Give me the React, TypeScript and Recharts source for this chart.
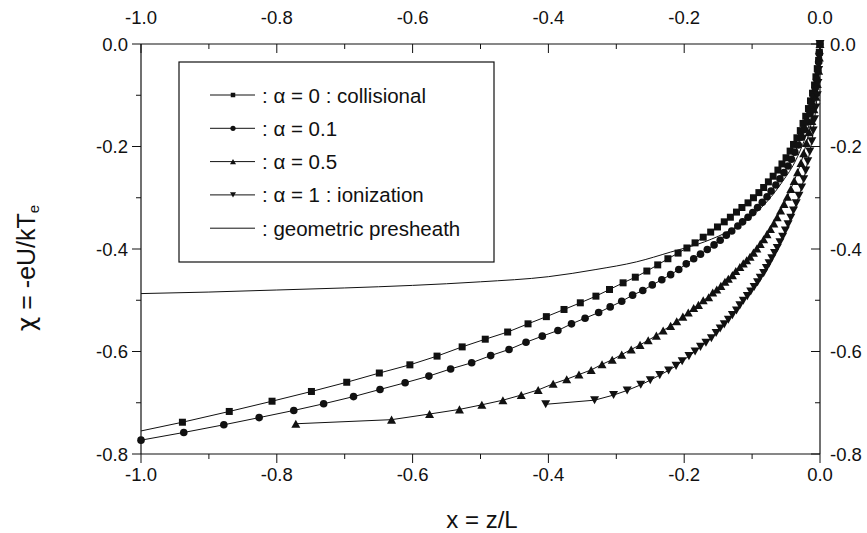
import React from 'react';
import { LineChart, Line, XAxis, YAxis, Customized } from 'recharts';

// axis ticks (major every 0.2 get a label, minor every 0.1)
const xTicks = [-1.0, -0.9, -0.8, -0.7, -0.6, -0.5, -0.4, -0.3, -0.2, -0.1, 0.0];
const yTicks = [-0.8, -0.7, -0.6, -0.5, -0.4, -0.3, -0.2, -0.1, 0.0];

// alpha = 0 : collisional (squares)
const collisionalX = [
  -1.0, -0.939, -0.870, -0.807, -0.749, -0.697, -0.649, -0.604, -0.564, -0.527, -0.493, -0.460,
  -0.430, -0.403, -0.377, -0.353, -0.330, -0.310, -0.290, -0.272, -0.255, -0.239, -0.224, -0.209,
  -0.196, -0.184, -0.172, -0.161, -0.151, -0.141, -0.132, -0.123, -0.115, -0.106, -0.098, -0.090,
  -0.083, -0.076, -0.069, -0.062, -0.056, -0.050, -0.044, -0.039, -0.034, -0.029, -0.025, -0.021,
  -0.017, -0.014, -0.011, -0.008, -0.006, -0.004, -0.002, -0.001, 0,
];
const collisionalY = [
  -0.755, -0.738, -0.717, -0.697, -0.678, -0.660, -0.642, -0.626, -0.609, -0.591, -0.576, -0.562,
  -0.546, -0.532, -0.518, -0.505, -0.492, -0.479, -0.466, -0.455, -0.443, -0.431, -0.419, -0.408,
  -0.398, -0.388, -0.377, -0.367, -0.357, -0.347, -0.338, -0.328, -0.319, -0.310, -0.300, -0.290,
  -0.280, -0.269, -0.258, -0.246, -0.234, -0.222, -0.209, -0.196, -0.183, -0.169, -0.155, -0.141,
  -0.126, -0.111, -0.096, -0.080, -0.064, -0.048, -0.032, -0.016, 0,
];

// alpha = 0.1 (circles)
const alpha01X = [
  -1.0, -0.937, -0.878, -0.826, -0.775, -0.731, -0.687, -0.648, -0.611, -0.576, -0.544, -0.513,
  -0.485, -0.458, -0.433, -0.409, -0.386, -0.366, -0.346, -0.326, -0.309, -0.292, -0.276, -0.261,
  -0.247, -0.233, -0.220, -0.208, -0.197, -0.186, -0.176, -0.166, -0.156, -0.147, -0.138, -0.130,
  -0.121, -0.114, -0.106, -0.099, -0.092, -0.085, -0.078, -0.072, -0.065, -0.059, -0.053, -0.047,
  -0.042, -0.037, -0.032, -0.027, -0.023, -0.019, -0.015, -0.012, -0.009, -0.007, -0.005, -0.003,
  -0.002, -0.001, 0,
];
const alpha01Y = [
  -0.773, -0.758, -0.743, -0.729, -0.715, -0.702, -0.688, -0.674, -0.661, -0.648, -0.634, -0.622,
  -0.608, -0.596, -0.582, -0.570, -0.559, -0.546, -0.535, -0.524, -0.513, -0.502, -0.490, -0.481,
  -0.470, -0.460, -0.450, -0.440, -0.429, -0.419, -0.410, -0.401, -0.392, -0.383, -0.373, -0.365,
  -0.355, -0.347, -0.338, -0.329, -0.319, -0.309, -0.298, -0.287, -0.275, -0.263, -0.251, -0.238,
  -0.225, -0.211, -0.197, -0.182, -0.167, -0.152, -0.136, -0.120, -0.103, -0.086, -0.069, -0.052,
  -0.035, -0.017, 0,
];

// alpha = 0.5 (triangles up)
const alpha05X = [
  -0.772, -0.631, -0.575, -0.531, -0.498, -0.467, -0.440, -0.415, -0.393, -0.373, -0.355, -0.337,
  -0.321, -0.306, -0.292, -0.278, -0.265, -0.253, -0.241, -0.231, -0.220, -0.211, -0.202, -0.194,
  -0.186, -0.179, -0.172, -0.164, -0.158, -0.152, -0.146, -0.140, -0.135, -0.129, -0.124, -0.118,
  -0.113, -0.108, -0.103, -0.098, -0.093, -0.088, -0.083, -0.078, -0.073, -0.068, -0.063, -0.058,
  -0.053, -0.048, -0.043, -0.038, -0.033, -0.028, -0.024, -0.020, -0.016, -0.012, -0.009, -0.006,
  -0.004, -0.002, -0.001, 0,
];
const alpha05Y = [
  -0.741, -0.733, -0.722, -0.713, -0.704, -0.695, -0.685, -0.675, -0.663, -0.654, -0.645, -0.636,
  -0.625, -0.616, -0.606, -0.596, -0.587, -0.578, -0.569, -0.559, -0.550, -0.541, -0.532, -0.524,
  -0.515, -0.509, -0.500, -0.494, -0.485, -0.479, -0.472, -0.464, -0.458, -0.451, -0.443, -0.435,
  -0.428, -0.422, -0.415, -0.407, -0.399, -0.390, -0.381, -0.371, -0.361, -0.350, -0.338, -0.325,
  -0.312, -0.298, -0.283, -0.267, -0.250, -0.232, -0.213, -0.193, -0.172, -0.150, -0.127, -0.103,
  -0.078, -0.052, -0.026, 0,
];

// alpha = 1 : ionization (triangles down)
const ionizationX = [
  -0.404, -0.332, -0.304, -0.284, -0.264, -0.250, -0.236, -0.223, -0.212, -0.203, -0.193, -0.184,
  -0.176, -0.168, -0.160, -0.153, -0.147, -0.141, -0.135, -0.129, -0.123, -0.118, -0.113, -0.107,
  -0.102, -0.097, -0.092, -0.088, -0.083, -0.079, -0.075, -0.071, -0.067, -0.063, -0.059, -0.055,
  -0.051, -0.047, -0.043, -0.039, -0.035, -0.031, -0.027, -0.024, -0.021, -0.018, -0.015, -0.012,
  -0.010, -0.008, -0.006, -0.004, -0.003, -0.002, -0.001, 0,
];
const ionizationY = [
  -0.703, -0.695, -0.685, -0.676, -0.665, -0.656, -0.646, -0.637, -0.628, -0.619, -0.609, -0.600,
  -0.591, -0.583, -0.574, -0.564, -0.555, -0.547, -0.538, -0.529, -0.520, -0.510, -0.501, -0.492,
  -0.483, -0.474, -0.465, -0.456, -0.447, -0.437, -0.428, -0.418, -0.408, -0.398, -0.387, -0.376,
  -0.364, -0.352, -0.339, -0.325, -0.311, -0.296, -0.280, -0.264, -0.247, -0.229, -0.210, -0.190,
  -0.169, -0.147, -0.124, -0.100, -0.076, -0.051, -0.026, 0,
];

// geometric presheath (plain line)
const geometricX = [
  -1.0, -0.9, -0.8, -0.7, -0.6, -0.5, -0.4, -0.33, -0.27, -0.22, -0.17, -0.13, -0.10, -0.077,
  -0.055, -0.035, -0.02, -0.01, -0.004, -0.001, 0,
];
const geometricY = [
  -0.487, -0.484, -0.480, -0.476, -0.471, -0.464, -0.454, -0.440, -0.425, -0.406, -0.386, -0.362,
  -0.335, -0.306, -0.268, -0.225, -0.175, -0.125, -0.075, -0.035, 0,
];

const zip = (xs: number[], ys: number[]) => xs.map((x, i) => ({ x, y: ys[i] }));

const FONT = '"Liberation Sans", Arial, Helvetica, sans-serif';
const INK = '#111';

const isMajor = (v: number) => Math.round(Math.abs(v) * 10) % 2 === 0;
const fmt = (v: number) => (Math.abs(v) < 1e-9 ? '0.0' : v.toFixed(1));

// ---- marker shapes ----
function Square({ cx, cy, s = 7 }: any) {
  return <rect x={cx - s / 2} y={cy - s / 2} width={s} height={s} fill={INK} />;
}
function Circle({ cx, cy, r = 3.8 }: any) {
  return <circle cx={cx} cy={cy} r={r} fill={INK} />;
}
function TriUp({ cx, cy, s = 9 }: any) {
  const h = s * 0.9;
  return <path d={`M${cx},${cy - h / 2} L${cx + s / 2},${cy + h / 2} L${cx - s / 2},${cy + h / 2} Z`} fill={INK} />;
}
function TriDown({ cx, cy, s = 9 }: any) {
  const h = s * 0.9;
  return <path d={`M${cx},${cy + h / 2} L${cx + s / 2},${cy - h / 2} L${cx - s / 2},${cy - h / 2} Z`} fill={INK} />;
}

// ---- axis ticks (drawn by hand so minor ticks are shorter) ----
const tickText = { fontFamily: FONT, fontSize: 18.5, fill: INK };

function BottomTick({ x, y, payload }: any) {
  const major = isMajor(payload.value);
  return (
    <g>
      <line x1={x} y1={y} x2={x} y2={y + (major ? 9 : 5)} stroke={INK} />
      {major && (
        <text x={x} y={y + 20} textAnchor="middle" dominantBaseline="central" style={tickText}>
          {fmt(payload.value)}
        </text>
      )}
    </g>
  );
}
function TopTick({ x, y, payload }: any) {
  const major = isMajor(payload.value);
  return (
    <g>
      <line x1={x} y1={y} x2={x} y2={y + (major ? 9 : 5)} stroke={INK} />
      {major && (
        <text x={x} y={y - 27} textAnchor="middle" dominantBaseline="central" style={tickText}>
          {fmt(payload.value)}
        </text>
      )}
    </g>
  );
}
function LeftTick({ x, y, payload }: any) {
  const major = isMajor(payload.value);
  return (
    <g>
      <line x1={x - (major ? 9 : 5)} y1={y} x2={x} y2={y} stroke={INK} />
      {major && (
        <text x={x - 13} y={y} textAnchor="end" dominantBaseline="central" style={tickText}>
          {fmt(payload.value)}
        </text>
      )}
    </g>
  );
}
function RightTick({ x, y, payload }: any) {
  const major = isMajor(payload.value);
  return (
    <g>
      <line x1={x - (major ? 9 : 5)} y1={y} x2={x} y2={y} stroke={INK} />
      {major && (
        <text x={x + 10} y={y} textAnchor="start" dominantBaseline="central" style={tickText}>
          {fmt(payload.value)}
        </text>
      )}
    </g>
  );
}

// ---- legend + axis titles ----
const legendRows = [
  { label: ': \u03b1 = 0 : collisional', Marker: Square, size: 4.5 },
  { label: ': \u03b1 = 0.1', Marker: Circle, size: 2.6 },
  { label: ': \u03b1 = 0.5', Marker: TriUp, size: 6 },
  { label: ': \u03b1 = 1 : ionization', Marker: TriDown, size: 6 },
  { label: ': geometric presheath', Marker: null, size: 0 },
];

function Overlay() {
  return (
    <g>
      <rect x={179} y={62} width={315} height={200} fill="#fff" stroke={INK} strokeWidth={1.2} />
      {legendRows.map((row, i) => {
        const cy = 95 + i * 33.3;
        const M: any = row.Marker;
        return (
          <g key={i}>
            <line x1={210} y1={cy} x2={255} y2={cy} stroke={INK} strokeWidth={1} />
            {M && <M cx={233} cy={cy} s={row.size} r={row.size} />}
            <text x={262} y={cy} dominantBaseline="central" style={{ fontFamily: FONT, fontSize: 20.5, fill: INK }}>
              {row.label}
            </text>
          </g>
        );
      })}
      <text x={482} y={519} textAnchor="middle" dominantBaseline="central" style={{ fontFamily: FONT, fontSize: 24, fill: INK }}>
        x = z/L
      </text>
      <text
        transform="translate(26,268) rotate(-90)"
        textAnchor="middle"
        dominantBaseline="central"
        style={{ fontFamily: FONT, fontSize: 25, fill: INK }}
      >
        <tspan style={{ fontFamily: '"DejaVu Sans", sans-serif' }}>{'\u03c7'}</tspan>
        {' = -eU/kT'}
        <tspan fontSize={15} dy={7}>e</tspan>
      </text>
    </g>
  );
}

export default function App() {
  const axisLine = { stroke: INK, strokeWidth: 1.2 };
  return (
    <div style={{ position: 'absolute', left: 0, top: 0, width: 867, height: 533, background: '#fff' }}>
      <LineChart width={867} height={533} margin={{ top: 0, right: 0, bottom: 0, left: 0 }}>
        <XAxis
          xAxisId="bottom"
          type="number"
          dataKey="x"
          domain={[-1, 0]}
          ticks={xTicks}
          interval={0}
          height={79}
          tickSize={0}
          tickMargin={0}
          tickLine={false}
          axisLine={axisLine}
          tick={<BottomTick />}
        />
        <XAxis
          xAxisId="top"
          orientation="top"
          type="number"
          dataKey="x"
          domain={[-1, 0]}
          ticks={xTicks}
          interval={0}
          height={44}
          tickSize={0}
          tickMargin={0}
          tickLine={false}
          axisLine={axisLine}
          tick={<TopTick />}
        />
        <YAxis
          yAxisId="left"
          type="number"
          dataKey="y"
          domain={[-0.8, 0]}
          ticks={yTicks}
          interval={0}
          width={141}
          tickSize={0}
          tickMargin={0}
          tickLine={false}
          axisLine={axisLine}
          tick={<LeftTick />}
        />
        <YAxis
          yAxisId="right"
          orientation="right"
          type="number"
          dataKey="y"
          domain={[-0.8, 0]}
          ticks={yTicks}
          interval={0}
          width={47}
          tickSize={0}
          tickMargin={0}
          tickLine={false}
          axisLine={axisLine}
          tick={<RightTick />}
        />

        {/* invisible copy so the top / right axes get drawn */}
        <Line
          xAxisId="top"
          yAxisId="right"
          data={zip(geometricX, geometricY)}
          dataKey="y"
          stroke="none"
          dot={false}
          activeDot={false}
          legendType="none"
          isAnimationActive={false}
        />
        <Line
          xAxisId="bottom"
          yAxisId="left"
          data={zip(geometricX, geometricY)}
          dataKey="y"
          type="monotone"
          stroke={INK}
          strokeWidth={1}
          dot={false}
          isAnimationActive={false}
        />
        <Line
          xAxisId="bottom"
          yAxisId="left"
          data={zip(collisionalX, collisionalY)}
          dataKey="y"
          type="linear"
          stroke={INK}
          strokeWidth={1}
          dot={(p: any) => (p.index === 0 ? <g key={p.index} /> : <Square key={p.index} cx={p.cx} cy={p.cy} />)}
          isAnimationActive={false}
        />
        <Line
          xAxisId="bottom"
          yAxisId="left"
          data={zip(alpha01X, alpha01Y)}
          dataKey="y"
          type="linear"
          stroke={INK}
          strokeWidth={1}
          dot={(p: any) => <Circle key={p.index} cx={p.cx} cy={p.cy} />}
          isAnimationActive={false}
        />
        <Line
          xAxisId="bottom"
          yAxisId="left"
          data={zip(alpha05X, alpha05Y)}
          dataKey="y"
          type="linear"
          stroke={INK}
          strokeWidth={1}
          dot={(p: any) => <TriUp key={p.index} cx={p.cx} cy={p.cy} />}
          isAnimationActive={false}
        />
        <Line
          xAxisId="bottom"
          yAxisId="left"
          data={zip(ionizationX, ionizationY)}
          dataKey="y"
          type="linear"
          stroke={INK}
          strokeWidth={1}
          dot={(p: any) => <TriDown key={p.index} cx={p.cx} cy={p.cy} />}
          isAnimationActive={false}
        />
        <Customized component={<Overlay />} />
      </LineChart>
    </div>
  );
}
